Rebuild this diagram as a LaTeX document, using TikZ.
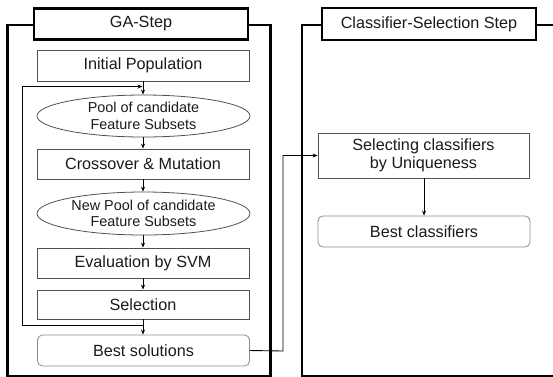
\documentclass[tikz,border=0pt]{standalone}
\usepackage{fontspec}
\setmainfont{Liberation Sans}
\usetikzlibrary{arrows.meta,shapes.geometric}
\definecolor{boxedge}{HTML}{505050}
\definecolor{softedge}{HTML}{8A8A8A}
\definecolor{ink}{HTML}{1A1A1A}
\tikzset{
  frame/.style={line width=2.6pt, black},
  titlebox/.style={draw=black, line width=2.6pt, fill=white, inner sep=0pt,
    minimum width=214pt, minimum height=31pt, text=ink},
  stepbox/.style={draw=boxedge, line width=0.8pt, inner sep=0pt,
    minimum width=212pt, text=ink, align=center},
  resultbox/.style={stepbox, draw=softedge, rounded corners=5pt},
  poolshape/.style={draw=boxedge, line width=0.8pt, ellipse, inner sep=0pt,
    minimum width=213pt},
  txt/.style={text=ink, align=center, inner sep=0pt,
    font=\fontsize{14.4}{16.5}\selectfont},
  flow/.style={draw=black, line width=0.9pt, -{Stealth[length=5pt,width=4pt]}},
  link/.style={draw=black, line width=0.9pt},
}
\begin{document}
\begin{tikzpicture}[x=1pt,y=-1pt,font=\fontsize{16.2}{17.5}\selectfont]
\useasboundingbox (0,0) rectangle (553,376);

% outer frames of the two stages
\draw[frame] (7.5,376.5) -- (7.5,25) -- (270.5,25) -- (270.5,376.5) -- cycle;
\draw[frame] (302,376.5) -- (302,25) -- (560,25) -- (560,376.5) -- cycle;

\node[titlebox] (gatitle) at (141,24) {GA-Step};
\node[titlebox, minimum height=32pt] (cstitle) at (429,24) {Classifier-Selection Step};

% GA column
\node[stepbox, minimum height=31pt] (init) at (143,65.5) {Initial Population};
\node[poolshape, minimum height=42pt] (pool) at (143.5,116) {};
\node[txt] (pooltxt) at (pool.center) {Pool of candidate\\Feature Subsets};
\node[stepbox, minimum height=30pt] (cross) at (143,164) {Crossover \& Mutation};
\node[poolshape, minimum height=43pt] (newpool) at (143.5,213.5) {};
\node[txt] (newpooltxt) at (newpool.center) {New Pool of candidate\\Feature Subsets};
\node[stepbox, minimum height=30pt] (eval) at (143,263) {Evaluation by SVM};
\node[stepbox, minimum height=29pt] (sel) at (143,304.5) {Selection};
\node[resultbox, minimum height=31pt] (best) at (143.5,350.5) {Best solutions};

% classifier-selection column
\node[stepbox, minimum width=211pt, minimum height=45pt] (selc) at (423.5,155.5)
  {Selecting classifiers\\by Uniqueness};
\node[resultbox, minimum height=31pt] (bestc) at (424,231.5) {Best classifiers};

% main flow
\draw[flow] (init.south) -- (pool.north -| init.south);
\draw[flow] (pool.south -| cross.north) -- (cross.north);
\draw[flow] (cross.south) -- (newpool.north -| cross.south);
\draw[flow] (newpool.south -| eval.north) -- (eval.north);
\draw[flow] (eval.south) -- (sel.north);
\draw[flow] (sel.south) -- (best.north -| sel.south);

% loop back to the candidate pool
\coordinate (fbj) at (143,325);
\coordinate (fbl) at (22,325);
\coordinate (fbt) at (22,86.5);
\coordinate (fbe) at (142.5,86.5);
\draw[link] (fbj) -- (fbl) -- (fbt);
\draw[flow] (fbt) -- (fbe);

% hand-over to the second stage
\coordinate (hop) at (283,351);
\draw[flow] (best.east) -- (hop) |- (selc.west);
\draw[flow] (selc.south -| bestc.north) -- (bestc.north);
\end{tikzpicture}
\end{document}
